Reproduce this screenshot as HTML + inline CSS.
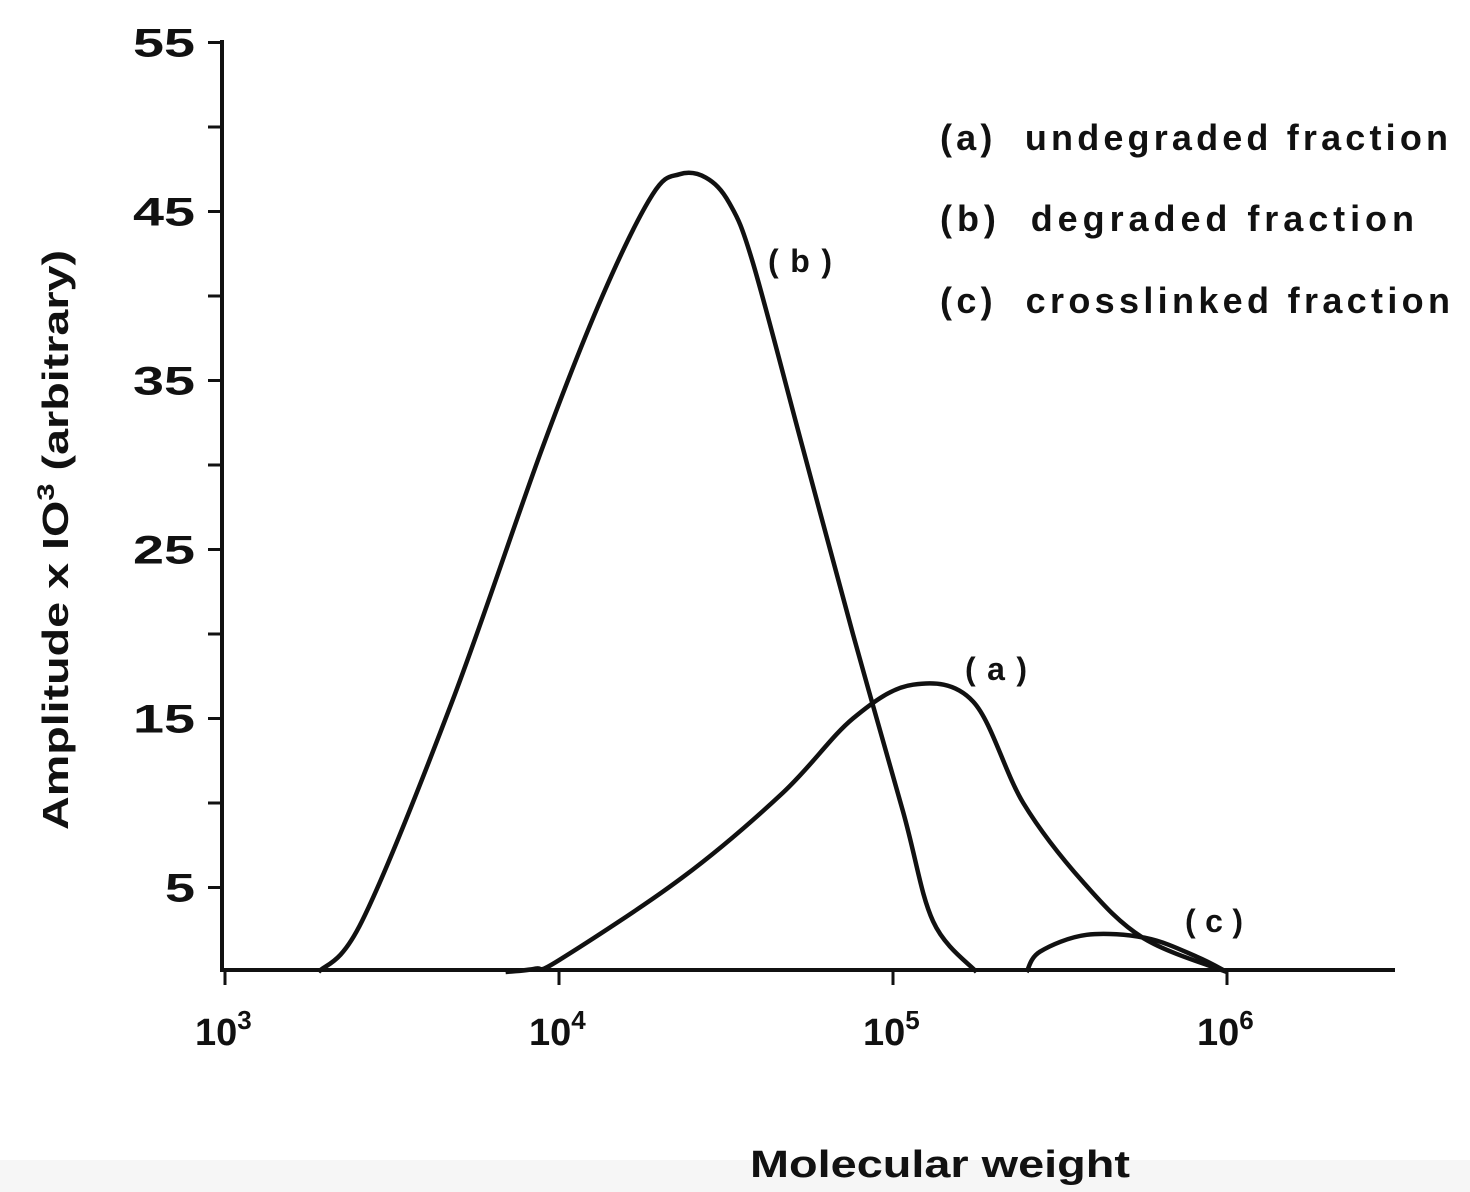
<!DOCTYPE html>
<html><head><meta charset="utf-8"><style>
html,body{margin:0;padding:0;background:#fff;}
svg{display:block;}
text{font-family:"Liberation Sans",sans-serif;fill:#111;font-weight:bold;}
</style></head><body>
<svg id="chart" width="1470" height="1192" viewBox="0 0 1470 1192">
<rect x="0" y="1160" width="1470" height="32" fill="#f6f6f6"/>
<g id="axes"></g>
<g id="series"></g>
<g font-size="36">
<text x="940" y="150" textLength="508" lengthAdjust="spacing">(a)&#160;&#160;undegraded fraction</text>
<text x="940" y="231" textLength="474" lengthAdjust="spacing">(b)&#160;&#160;degraded fraction</text>
<text x="940" y="313" textLength="510" lengthAdjust="spacing">(c)&#160;&#160;crosslinked fraction</text>
</g>
<text x="768" y="272" font-size="32" textLength="64" lengthAdjust="spacing">(b)</text>
<text x="965" y="680" font-size="32" textLength="62" lengthAdjust="spacing">(a)</text>
<text x="1185" y="932" font-size="32" textLength="58" lengthAdjust="spacing">(c)</text>
<text x="750" y="1177" font-size="38" textLength="380" lengthAdjust="spacingAndGlyphs">Molecular weight</text>
<text transform="translate(68,830) rotate(-90)" font-size="36" textLength="580" lengthAdjust="spacingAndGlyphs">Amplitude x IO<tspan dy="-14" font-size="24">3</tspan><tspan dy="14"> (arbitrary)</tspan></text>
</svg>
<script>
const yTicks=[5,15,25,35,45,55];
const yMinor=[10,20,30,40,50];
const xTicks=[3,4,5,6];
const curveBx=[3.28,3.41,3.68,3.95,4.13,4.28,4.36,4.44,4.51,4.58,4.73,4.88,5.03,5.12,5.25];
const curveBy=[0,3,16,31,40,46,47.2,47,45.5,42,31,20,9.5,3,0];
const curveAx=[3.84,3.93,4.0,4.37,4.67,4.88,5.06,5.24,5.39,5.57,5.75,6.0];
const curveAy=[0,0.2,0.7,5.6,10.6,15,17,16,10,5.3,2,0];
const curveCx=[5.40,5.44,5.58,5.76,5.91,6.0];
const curveCy=[0,1.2,2.2,2,0.9,0];
const NS="http://www.w3.org/2000/svg";
function X(l){return 225+(l-3)*334;}
function Y(v){return 972-v*16.9;}
const axes=document.getElementById('axes');
function el(t,a,p){const e=document.createElementNS(NS,t);for(const k in a)e.setAttribute(k,a[k]);p.appendChild(e);return e;}
const ya=el('line',{x1:222,y1:40,x2:222,y2:972,stroke:'#111','stroke-width':4},axes);


const xa=el('line',{x1:220,y1:970,x2:1395,y2:970,stroke:'#111','stroke-width':4},axes);


yTicks.concat(yMinor).forEach(v=>{const t=el('line',{x1:208,y1:Y(v),x2:222,y2:Y(v),stroke:'#111','stroke-width':3},axes);

});
yTicks.forEach(v=>{const t=el('text',{x:133,y:Y(v)+14,'font-size':40,textLength:(v<10?30:62),lengthAdjust:'spacingAndGlyphs'},axes);
if(v<10)t.setAttribute('x',165);
t.textContent=v;

});
xTicks.forEach(l=>{const tk=el('line',{x1:X(l),y1:970,x2:X(l),y2:985,stroke:'#111','stroke-width':3},axes);


const t=el('text',{x:X(l)-30,y:1045,'font-size':38},axes);
t.innerHTML='10<tspan dy="-16" font-size="26">'+l+'</tspan>';

});
function path(xs,ys){const p=xs.map((x,i)=>[X(x),Y(ys[i])]);let d='M'+p[0][0]+','+p[0][1];
for(let i=0;i<p.length-1;i++){const p0=p[i-1]||p[i],p1=p[i],p2=p[i+1],p3=p[i+2]||p2;
d+=' C'+(p1[0]+(p2[0]-p0[0])/6)+','+(p1[1]+(p2[1]-p0[1])/6)+' '+(p2[0]-(p3[0]-p1[0])/6)+','+(p2[1]-(p3[1]-p1[1])/6)+' '+p2[0]+','+p2[1];}
return d;}
const sg=document.getElementById('series');
[['curve-b',curveBx,curveBy],['curve-a',curveAx,curveAy],['curve-c',curveCx,curveCy]].forEach(s=>{
const e=el('path',{d:path(s[1],s[2]),fill:'none',stroke:'#111','stroke-width':4.5,'stroke-linejoin':'round'},sg);

});
</script>
</body></html>
